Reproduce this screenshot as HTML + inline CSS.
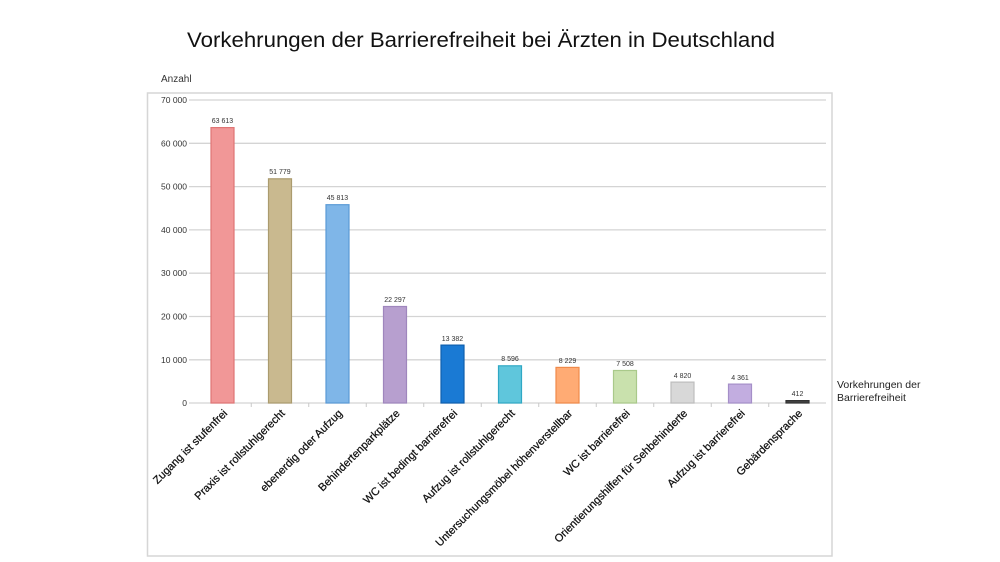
<!DOCTYPE html>
<html><head><meta charset="utf-8">
<style>
html,body{margin:0;padding:0;background:#fff;}
svg{display:block;}
text{font-family:"Liberation Sans",Arial,sans-serif;}
</style></head>
<body>
<svg width="1000" height="562" viewBox="0 0 1000 562" xmlns="http://www.w3.org/2000/svg">
<rect width="1000" height="562" fill="#fff"/>
<text x="187" y="47" font-size="21" fill="#111" textLength="588" lengthAdjust="spacingAndGlyphs">Vorkehrungen der Barrierefreiheit bei Ärzten in Deutschland</text>
<text x="161" y="82" font-size="10" fill="#333">Anzahl</text>
<rect x="147.5" y="93" width="684.5" height="463" fill="none" stroke="#d6d6d6" stroke-width="1.5"/>
<g stroke="#d4d4d4" stroke-width="1.3">
<line x1="189" y1="100" x2="826" y2="100"/>
<line x1="189" y1="143.3" x2="826" y2="143.3"/>
<line x1="189" y1="186.6" x2="826" y2="186.6"/>
<line x1="189" y1="229.9" x2="826" y2="229.9"/>
<line x1="189" y1="273.2" x2="826" y2="273.2"/>
<line x1="189" y1="316.5" x2="826" y2="316.5"/>
<line x1="189" y1="359.8" x2="826" y2="359.8"/>
<line x1="189" y1="403" x2="826" y2="403"/>
</g>
<g stroke="#c8c8c8" stroke-width="1">
<line x1="251.25" y1="403" x2="251.25" y2="407"/>
<line x1="308.75" y1="403" x2="308.75" y2="407"/>
<line x1="366.25" y1="403" x2="366.25" y2="407"/>
<line x1="423.75" y1="403" x2="423.75" y2="407"/>
<line x1="481.25" y1="403" x2="481.25" y2="407"/>
<line x1="538.75" y1="403" x2="538.75" y2="407"/>
<line x1="596.25" y1="403" x2="596.25" y2="407"/>
<line x1="653.75" y1="403" x2="653.75" y2="407"/>
<line x1="711.25" y1="403" x2="711.25" y2="407"/>
<line x1="768.75" y1="403" x2="768.75" y2="407"/>
</g>
<g font-size="8.5" fill="#333" text-anchor="end">
<text x="187" y="103">70 000</text>
<text x="187" y="146.3">60 000</text>
<text x="187" y="189.6">50 000</text>
<text x="187" y="232.9">40 000</text>
<text x="187" y="276.2">30 000</text>
<text x="187" y="319.5">20 000</text>
<text x="187" y="362.8">10 000</text>
<text x="187" y="406">0</text>
</g>
<g stroke-width="1.2">
<rect x="211" y="127.6" width="23" height="275.4" fill="#f19797" stroke="#e07575"/>
<rect x="268.5" y="178.8" width="23" height="224.2" fill="#c9b98f" stroke="#ab9b6e"/>
<rect x="326" y="204.7" width="23" height="198.3" fill="#7fb6e8" stroke="#5a9ad6"/>
<rect x="383.5" y="306.5" width="23" height="96.5" fill="#b79fcf" stroke="#9f86bd"/>
<rect x="441" y="345.1" width="23" height="57.9" fill="#1a7ad4" stroke="#0f5fae"/>
<rect x="498.5" y="365.8" width="23" height="37.2" fill="#5fc6dc" stroke="#2fa8c4"/>
<rect x="556" y="367.4" width="23" height="35.6" fill="#ffab74" stroke="#f08a4a"/>
<rect x="613.5" y="370.5" width="23" height="32.5" fill="#c9e1ad" stroke="#a9c98a"/>
<rect x="671" y="382.1" width="23" height="20.9" fill="#d8d8d8" stroke="#bdbdbd"/>
<rect x="728.5" y="384.1" width="23" height="18.9" fill="#c2ade0" stroke="#a58fc8"/>
<rect x="786" y="400.6" width="23" height="2.4" fill="#444" stroke="#333"/>
</g>
<g font-size="7" fill="#333" text-anchor="middle">
<text x="222.5" y="123">63 613</text>
<text x="280" y="174">51 779</text>
<text x="337.5" y="200">45 813</text>
<text x="395" y="302">22 297</text>
<text x="452.5" y="341">13 382</text>
<text x="510" y="361">8 596</text>
<text x="567.5" y="363">8 229</text>
<text x="625" y="366">7 508</text>
<text x="682.5" y="378">4 820</text>
<text x="740" y="380">4 361</text>
<text x="797.5" y="396">412</text>
</g>
<g font-size="11" fill="#111" stroke="#111" stroke-width="0.25" text-anchor="end">
<text transform="translate(228,414) rotate(-45)">Zugang ist stufenfrei</text>
<text transform="translate(285.5,414) rotate(-45)">Praxis ist rollstuhlgerecht</text>
<text transform="translate(343,414) rotate(-45)">ebenerdig oder Aufzug</text>
<text transform="translate(400.5,414) rotate(-45)">Behindertenparkplätze</text>
<text transform="translate(458,414) rotate(-45)">WC ist bedingt barrierefrei</text>
<text transform="translate(515.5,414) rotate(-45)">Aufzug ist rollstuhlgerecht</text>
<text transform="translate(573,414) rotate(-45)">Untersuchungsmöbel höhenverstellbar</text>
<text transform="translate(630.5,414) rotate(-45)">WC ist barrierefrei</text>
<text transform="translate(688,414) rotate(-45)">Orientierungshilfen für Sehbehinderte</text>
<text transform="translate(745.5,414) rotate(-45)">Aufzug ist barrierefrei</text>
<text transform="translate(803,414) rotate(-45)">Gebärdensprache</text>
</g>
<g font-size="10.5" fill="#222">
<text x="837" y="388">Vorkehrungen der</text>
<text x="837" y="401">Barrierefreiheit</text>
</g>
</svg>
</body></html>
